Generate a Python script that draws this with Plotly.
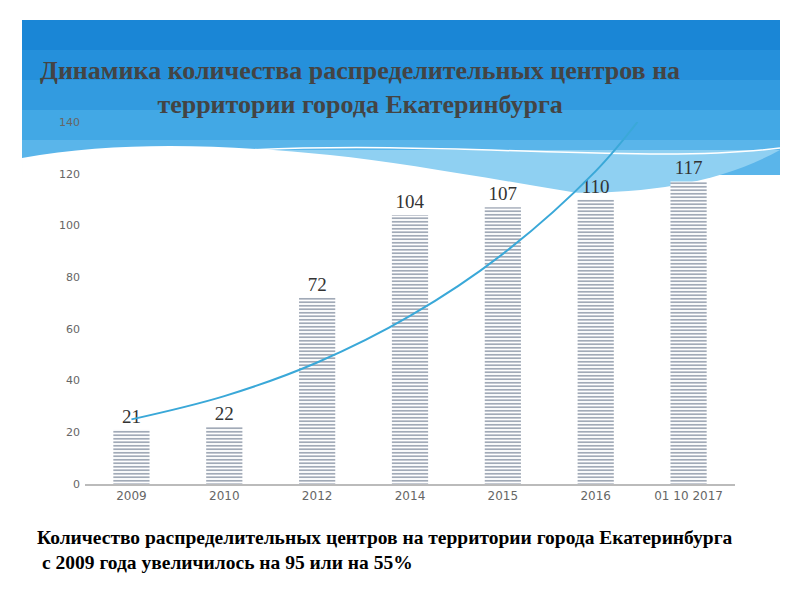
import plotly.graph_objects as go

# chart data
years = ["2009", "2010", "2012", "2014", "2015", "2016", "01 10 2017"]
centers = [21, 22, 72, 104, 107, 110, 117]

# trend line (category index, value)
trend_x = [0, 1, 2, 3, 4, 5, 5.45]
trend_y = [25, 34, 47, 65, 89, 121, 140]

# plot area in pixels: x 85..735, y 122..484 (page adds ~8px offset)
L, R, T, B = 85, 735, 122, 484
OFF = 8


def px(x, y):
    return (x - L) / (R - L), (B - y) / (B - T)


def path(points_cmd):
    out = ""
    for cmd, pts in points_cmd:
        out += cmd + " " + " ".join("%.4f,%.4f" % px(*p) for p in pts) + " "
    return out + "Z"


fig = go.Figure()

fig.add_trace(go.Bar(
    x=list(range(len(years))), y=centers,
    text=[str(v) for v in centers], textposition="outside",
    textfont=dict(family="Liberation Serif", size=19, color="#333333"),
    marker=dict(color="white", line=dict(width=0),
                pattern=dict(shape="-", fgcolor="#14294a", bgcolor="white", size=3.5, solidity=0.4)),
    cliponaxis=False, showlegend=False,
))

fig.add_trace(go.Scatter(
    x=trend_x, y=trend_y, mode="lines", line=dict(color="#3aa8d8", width=2, shape="spline"),
    showlegend=False, hoverinfo="skip",
))

shapes = []
# blue band at top, gradient by stacked layers
bands = [("#1a86d6", 20, 50), ("#2590db", 50, 80), ("#329be0", 80, 110), ("#42a8e5", 110, 140), ("#5ab5ea", 140, 175)]
for col, y0, y1 in bands:
    a = px(22, y0)
    b = px(780, y1)
    shapes.append(dict(type="rect", xref="paper", yref="paper", x0=a[0], y0=a[1], x1=b[0], y1=b[1],
                       fillcolor=col, line=dict(width=0), layer="below"))
# light blue area on the right behind the bars
shapes.append(dict(type="path", xref="paper", yref="paper", layer="below", line=dict(width=0),
                   fillcolor="#8fd0f2",
                   path=path([("M", [(240, 150)]), ("L", [(780, 150), (780, 225)]),
                              ("C", [(650, 222), (450, 190), (240, 150)])])))
# white wave
shapes.append(dict(type="path", xref="paper", yref="paper", layer="below", line=dict(width=0),
                   fillcolor="white",
                   path=path([("M", [(22, 175)]), ("L", [(22, 158)]),
                              ("C", [(120, 140), (230, 145), (330, 155)]),
                              ("C", [(450, 168), (600, 200), (780, 225)]),
                              ("L", [(780, 240), (22, 240)])])))
shapes.append(dict(type="path", xref="paper", yref="paper", layer="below",
                   line=dict(width=1.5, color="white"),
                   path="M %.4f,%.4f C %.4f,%.4f %.4f,%.4f %.4f,%.4f" % (*px(250, 150), *px(450, 140), *px(650, 165), *px(780, 148))))

fig.update_layout(
    width=800, height=600,
    margin=dict(l=L - OFF, r=800 - R + OFF, t=T - OFF, b=600 - B + OFF),
    paper_bgcolor="white", plot_bgcolor="rgba(0,0,0,0)",
    bargap=0.61, shapes=shapes,
    xaxis=dict(tickmode="array", tickvals=list(range(len(years))), ticktext=years,
               range=[-0.5, 6.5], showgrid=False, zeroline=False, showline=True,
               linecolor="#bbbbbb", linewidth=1.5,
               tickfont=dict(family="DejaVu Sans", size=12, color="#666666")),
    yaxis=dict(range=[0, 140], dtick=20, showgrid=False, zeroline=False, showline=False,
               tickfont=dict(family="DejaVu Sans", size=11, color="#666666"), ticklabelstandoff=4),
    annotations=[
        dict(xref="paper", yref="paper", x=px(360, 0)[0], y=px(0, 88)[1], xanchor="center", yanchor="middle",
             showarrow=False, align="center",
             text="<b>Динамика количества распределительных центров на<br>территории города Екатеринбурга</b>",
             font=dict(family="Liberation Serif", size=26, color="#444444")),
        dict(xref="paper", yref="paper", x=px(35, 0)[0], y=px(0, 537)[1], xanchor="left", yanchor="middle",
             showarrow=False,
             text="<b>Количество распределительных центров на территории города Екатеринбурга</b>",
             font=dict(family="Liberation Serif", size=19.5, color="black")),
        dict(xref="paper", yref="paper", x=px(40, 0)[0], y=px(0, 562)[1], xanchor="left", yanchor="middle",
             showarrow=False,
             text="<b>с 2009 года увеличилось на 95 или на 55%</b>",
             font=dict(family="Liberation Serif", size=19.5, color="black")),
    ],
)

fig.write_html("out.html")
